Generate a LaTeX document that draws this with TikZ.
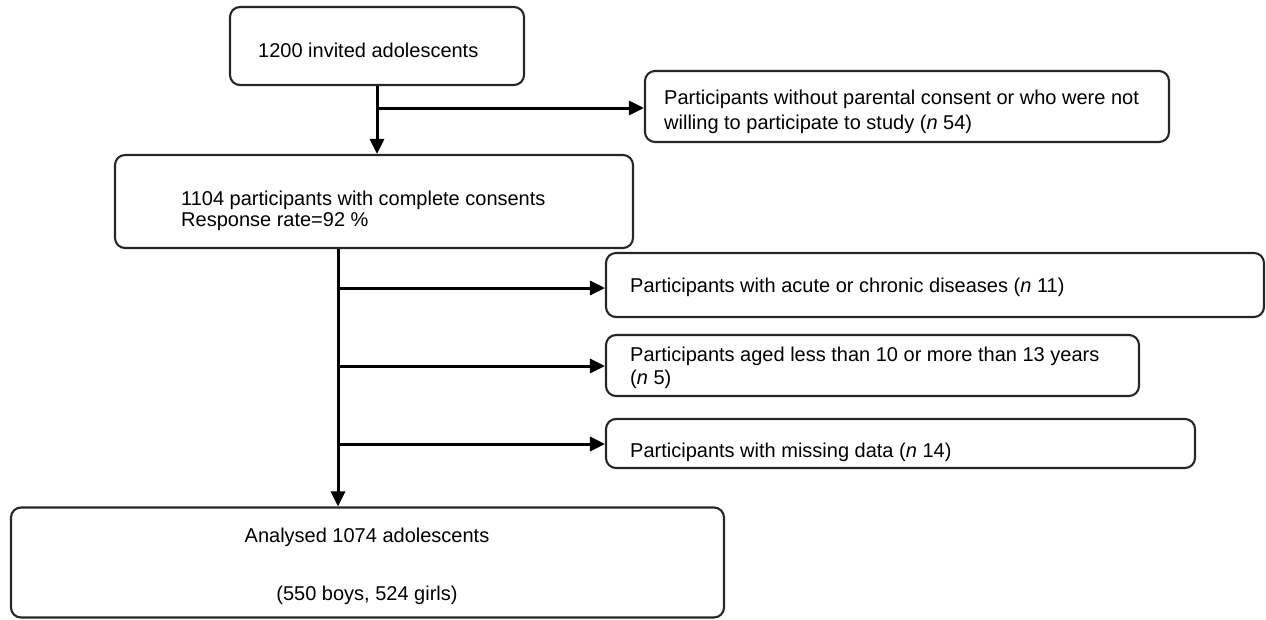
\documentclass[tikz,border=0pt]{standalone}
\usepackage{fontspec}
\setmainfont{Liberation Sans}
\usetikzlibrary{arrows.meta}
\tikzset{
  box/.style={draw=black!85, line width=2.1pt, rounded corners=10pt, minimum width=#1, inner sep=0pt},
  lbl/.style={anchor=base west, inner sep=0pt, align=left},
  arr/.style={line width=3pt, -{Triangle[length=15pt,width=14pt]}},
}
\newcommand{\fs}[1]{\fontsize{20}{#1}\selectfont}
\begin{document}
\begin{tikzpicture}[x=1pt,y=-1pt]
\useasboundingbox (0,0) rectangle (1266,619);
% boxes
\node[box=294pt, minimum height=78pt] (b1) at (377,46) {};
\node[box=518pt, minimum height=93pt] (b2) at (374,201.5) {};
\node[box=524pt, minimum height=71pt] (b3) at (907,106.5) {};
\node[box=658pt, minimum height=64pt] (b4a) at (935,285) {};
\node[box=533pt, minimum height=61pt] (b4b) at (872.5,365.5) {};
\node[box=589pt, minimum height=49pt] (b4c) at (900.5,443.5) {};
\node[box=713pt, minimum height=110pt] (b5) at (367.5,562.5) {};
% texts (base = baseline of last line)
\node[lbl, font=\fs{25}] (t1) at (258,57) {1200 invited adolescents};
\node[lbl, font=\fs{21}] (t2) at (181,226) {1104 participants with complete consents\\Response rate=92 \%};
\node[lbl, font=\fs{25}] (t3) at (664,129) {Participants without parental consent or who were not\\willing to participate to study (\textit{n} 54)};
\node[lbl, font=\fs{25}] (t4a) at (630,292) {Participants with acute or chronic diseases (\textit{n} 11)};
\node[lbl, font=\fs{23}] (t4b) at (630,384) {Participants aged less than 10 or more than 13 years\\(\textit{n} 5)};
\node[lbl, font=\fs{25}] (t4c) at (630,457) {Participants with missing data (\textit{n} 14)};
\node[anchor=base, inner sep=0pt, align=center, font=\fs{58}] (t5) at (367,600) {Analysed 1074 adolescents\\(550 boys, 524 girls)};
% connectors
\coordinate (j1) at (377,108);
\draw[arr] (b1.south) -- (b1.south |- b2.north);
\draw[arr] (j1) -- (j1 -| b3.west);
\coordinate (tr) at (338,248);
\coordinate (j2) at (338,288);
\coordinate (j3) at (338,366);
\coordinate (j4) at (338,444);
\draw[arr] (b2.south -| tr) -- (b5.north -| tr);
\draw[arr] (j2) -- (j2 -| b4a.west);
\draw[arr] (j3) -- (j3 -| b4b.west);
\draw[arr] (j4) -- (j4 -| b4c.west);
\end{tikzpicture}
\end{document}
